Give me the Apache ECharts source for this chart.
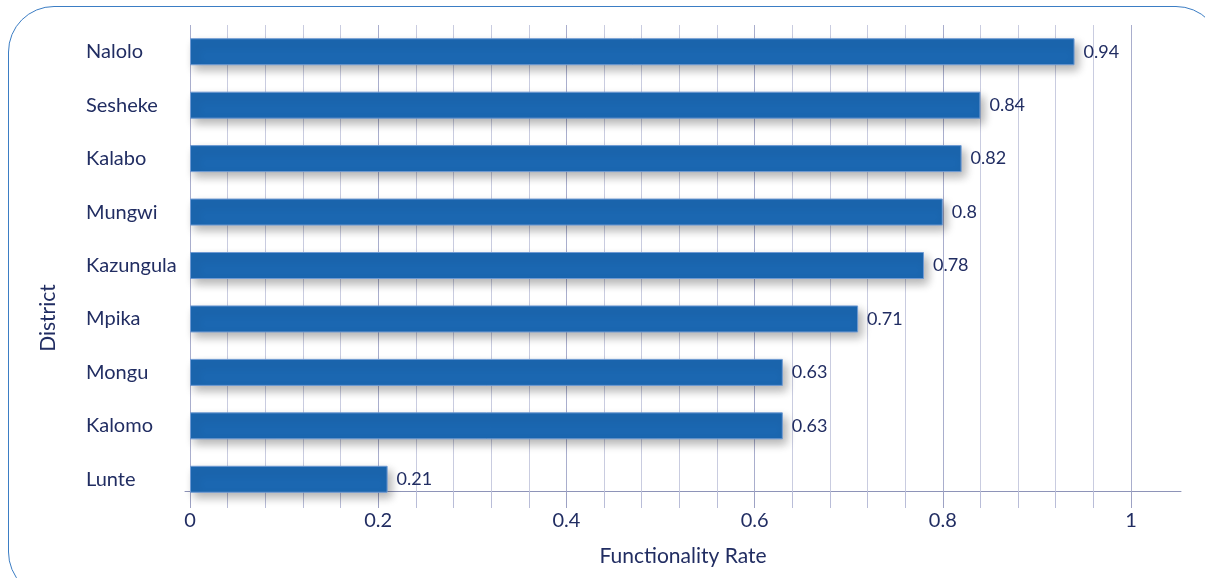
<!DOCTYPE html>
<html>
<head>
<meta charset="utf-8">
<script src="https://cdn.jsdelivr.net/npm/echarts@6/dist/echarts.min.js"></script>
<style>
  html, body { margin: 0; padding: 0; background: #fff; }
  #frame {
    position: absolute; left: 8px; top: 6px; width: 1212px; height: 590px;
    border: 1.5px solid #3b7dc4; border-radius: 46px; pointer-events: none;
  }
  #chart { position: absolute; left: 0; top: 0; width: 1205px; height: 578px; }
</style>
</head>
<body>
<div id="frame"></div>
<div id="chart"></div>
<script>
const districts = ["Nalolo", "Sesheke", "Kalabo", "Mungwi", "Kazungula", "Mpika", "Mongu", "Kalomo", "Lunte"];
const rates = [0.94, 0.84, 0.82, 0.8, 0.78, 0.71, 0.63, 0.63, 0.21];
const rateTicks = [0, 0.2, 0.4, 0.6, 0.8, 1];

const textColor = "#212d62";
const font = "Lato, 'Open Sans', sans-serif";

const chart = echarts.init(document.getElementById("chart"));

chart.setOption({
  backgroundColor: "transparent",
  animation: false,
  textStyle: { fontFamily: font },
  grid: [
    { left: 190, right: 74, top: 25, bottom: 72 },
    { left: 185, right: 24, top: 25, bottom: 87 },
  ],
  xAxis: [
    {
      gridIndex: 0,
      type: "value",
      min: rateTicks[0],
      max: rateTicks[rateTicks.length - 1],
      interval: rateTicks[1] - rateTicks[0],
      offset: -15,
      axisLine: { show: false },
      axisTick: { show: true, length: 17, lineStyle: { color: "#9da2c4" } },
      minorTick: { show: true, splitNumber: 5, length: 17, lineStyle: { color: "#b9bdd8" } },
      axisLabel: { margin: 20, color: textColor, fontSize: 20, fontFamily: font },
      splitLine: { show: true, lineStyle: { color: "#a9aecd", width: 1 } },
      minorSplitLine: { show: true, lineStyle: { color: "#c9cce0", width: 1 } },
    },
    {
      gridIndex: 1,
      type: "value",
      min: 0,
      max: 1,
      axisLine: { show: true, lineStyle: { color: "#8e94b8", width: 1 } },
      axisTick: { show: false },
      axisLabel: { show: false },
      splitLine: { show: false },
      name: "Functionality Rate",
      nameLocation: "middle",
      nameGap: 55,
      nameTextStyle: { color: textColor, fontSize: 21, fontFamily: font },
    },
  ],
  yAxis: [
    {
      gridIndex: 0,
      type: "category",
      data: districts,
      inverse: true,
      axisLine: { show: false },
      axisTick: { show: false },
      splitLine: { show: false },
      axisLabel: { align: "left", margin: 104, color: textColor, fontSize: 20, fontFamily: font },
    },
    { gridIndex: 1, type: "value", show: false },
  ],
  graphic: [
    {
      type: "text",
      x: 48,
      y: 318,
      rotation: Math.PI / 2,
      style: {
        text: "District",
        fill: textColor,
        font: "21px " + font,
        textAlign: "center",
        textVerticalAlign: "middle",
      },
    },
  ],
  series: [
    {
      type: "bar",
      xAxisIndex: 0,
      yAxisIndex: 0,
      data: rates,
      barWidth: 27,
      itemStyle: {
        color: "#1b67b1",
        borderColor: "#6f9ad3",
        borderWidth: 1,
        shadowBlur: 10,
        shadowOffsetX: 4,
        shadowOffsetY: 5,
        shadowColor: "rgba(0, 0, 0, 0.3)",
      },
      label: {
        show: true,
        position: "right",
        distance: 9,
        color: textColor,
        fontSize: 18,
        fontFamily: font,
      },
    },
  ],
});
</script>
</body>
</html>
